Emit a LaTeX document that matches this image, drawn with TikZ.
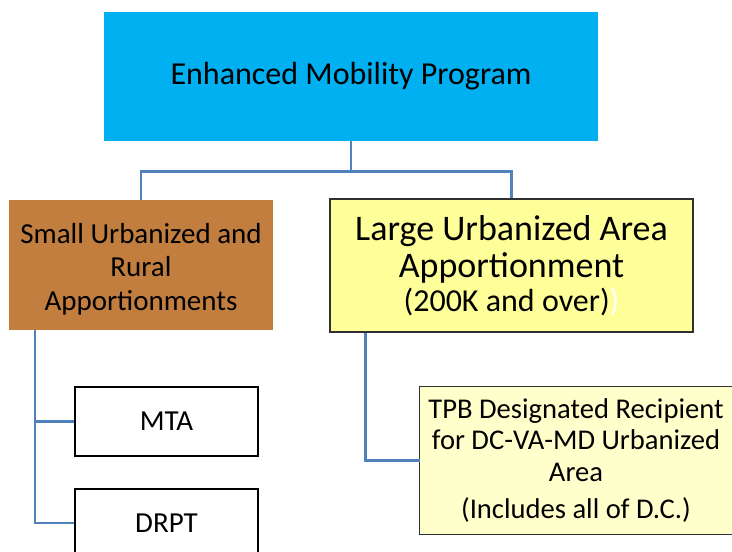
\documentclass[tikz,border=0pt]{standalone}
\usepackage{fontspec}
\setmainfont{Carlito}
\usetikzlibrary{backgrounds}
\definecolor{topblue}{HTML}{00B0F0}
\definecolor{brownbox}{HTML}{C17E3E}
\definecolor{yellowbox}{HTML}{FFFF99}
\definecolor{paleyellow}{HTML}{FFFFCC}
\definecolor{linkblue}{HTML}{4F81BD}
\definecolor{edgegray}{HTML}{303030}
\tikzset{
  box/.style={rectangle, inner sep=0pt, align=center, anchor=center},
  link/.style={draw=linkblue, line width=2.6pt},
  txtA/.style={font=\fontsize{32}{38}\selectfont},
  txtB/.style={font=\fontsize{29}{33.5}\selectfont},
  txtC/.style={font=\fontsize{28.6}{31.5}\selectfont},
}
\begin{document}
\begin{tikzpicture}[x=1pt,y=-1pt]
\clip (0,0) rectangle (732,552);
% boxes
\node[box, txtA, fill=topblue, minimum width=494pt, minimum height=129pt] (top) at (351,76.5) {Enhanced Mobility Program};
\node[box, txtB, fill=brownbox, minimum width=264pt, minimum height=130pt] (small) at (141,265) {\\[-5pt]Small Urbanized and\\Rural\\Apportionments};
\node[box, fill=yellowbox, draw=edgegray, line width=1.2pt, minimum width=363pt, minimum height=133pt, font=\fontsize{36}{37}\selectfont] (large) at (511.5,265.5)
  {Large Urbanized Area\\Apportionment\\[-2.5pt]{\fontsize{32}{34}\selectfont (200K and over)\textcolor{white}{)}}};
\node[box, txtB, fill=white, draw=black, line width=1.2pt, minimum width=183pt, minimum height=69pt] (mta) at (166.5,421.5) {MTA};
\node[box, txtB, fill=white, draw=black, line width=1.2pt, minimum width=183pt, minimum height=68pt] (drpt) at (166.5,523) {DRPT};
\node[box, txtC, minimum width=312pt, minimum height=147pt] (tpb) at (576,460.5)
  {TPB Designated Recipient\\for DC-VA-MD Urbanized\\Area\\[6pt](Includes all of D.C.)};
\begin{scope}[on background layer]
\fill[white] (0,0) rectangle (732,552);
\draw[fill=paleyellow, draw=edgegray, line width=1.2pt] (tpb.north west) rectangle ([xshift=30pt]tpb.south east);
\end{scope}
% connectors
\coordinate (split) at ([yshift=-30pt]top.south);
\draw[link] (top.south) -- (split);
\draw[link] (split) -| (small.north);
\draw[link] (split) -| (large.north);
\coordinate (sleft) at ([xshift=26pt]small.south west);
\draw[link] (sleft) |- (mta.west);
\draw[link] (sleft) |- (drpt.west);
\coordinate (lleft) at ([xshift=36pt]large.south west);
\draw[link] (lleft) |- (tpb.west);
\end{tikzpicture}
\end{document}
